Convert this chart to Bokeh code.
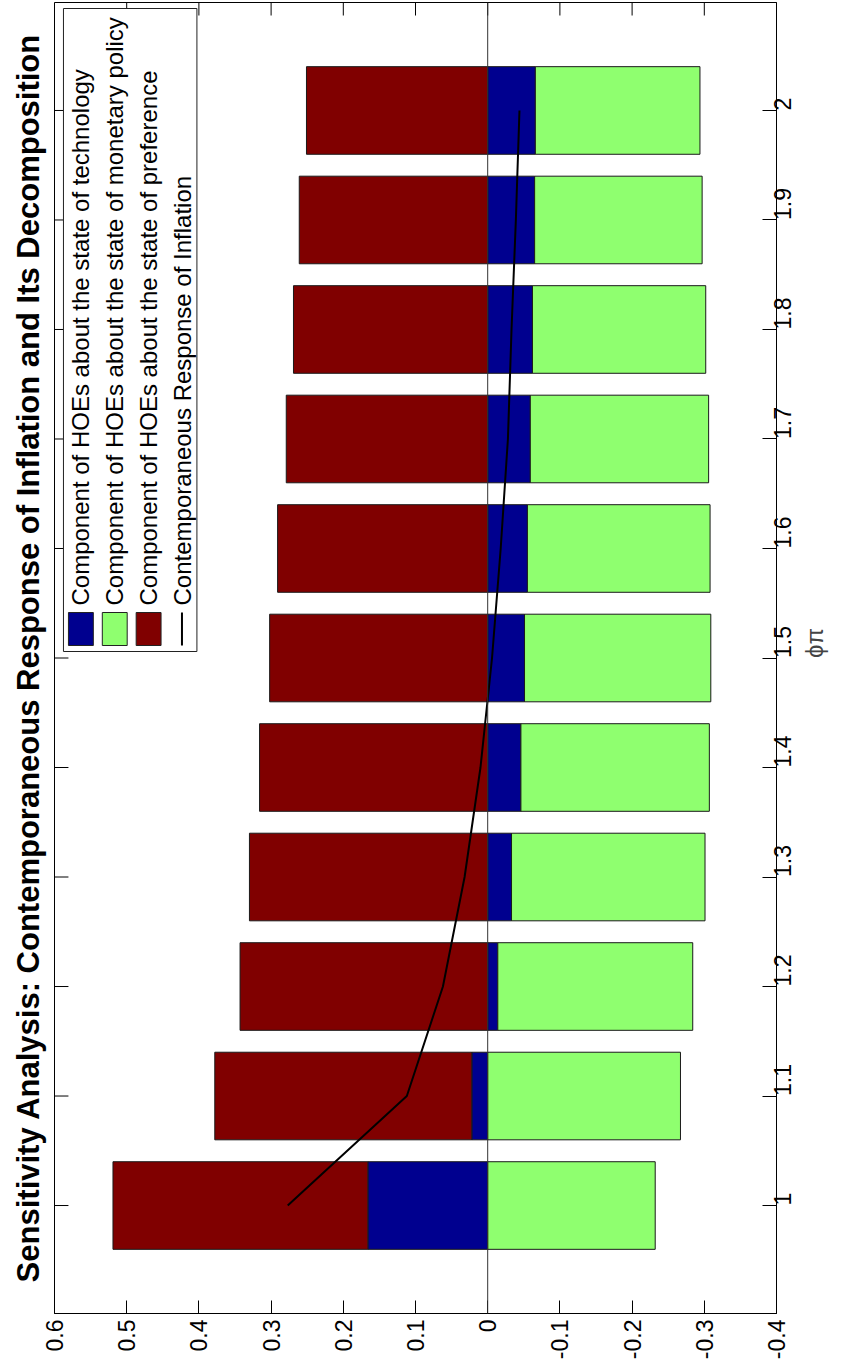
import math
from bokeh.plotting import figure
from bokeh.models import Range1d, FixedTicker, Span, Title
from bokeh.embed import file_html
from bokeh.resources import INLINE
from bokeh.core.properties import value

# ---------------- data ----------------
phi = [1.0, 1.1, 1.2, 1.3, 1.4, 1.5, 1.6, 1.7, 1.8, 1.9, 2.0]
technology = [0.166, 0.022, -0.014, -0.033, -0.046, -0.051, -0.055, -0.059, -0.062, -0.065, -0.066]
monetary = [-0.232, -0.267, -0.270, -0.268, -0.261, -0.258, -0.253, -0.247, -0.240, -0.232, -0.228]
preference = [0.353, 0.356, 0.343, 0.330, 0.316, 0.302, 0.291, 0.279, 0.269, 0.261, 0.251]
response = [0.277, 0.112, 0.062, 0.032, 0.010, -0.006, -0.018, -0.028, -0.033, -0.039, -0.044]

series_names = ["Component of HOEs about the state of technology",
                "Component of HOEs about the state of monetary policy",
                "Component of HOEs about the state of preference"]
line_name = "Contemporaneous Response of Inflation"
title_text = "Sensitivity Analysis: Contemporaneous Response of Inflation and Its Decomposition"
value_ticks = [0.6, 0.5, 0.4, 0.3, 0.2, 0.1, 0.0, -0.1, -0.2, -0.3, -0.4]
value_labels = ["0.6", "0.5", "0.4", "0.3", "0.2", "0.1", "0", "-0.1", "-0.2", "-0.3", "-0.4"]
phi_labels = ["1", "1.1", "1.2", "1.3", "1.4", "1.5", "1.6", "1.7", "1.8", "1.9", "2"]
phi_axis_label = "\u03d5\u03c0"

colors = ["#00008F", "#8FFF6F", "#800000"]
FONT = "Liberation Sans"

X0, X1 = 0.6, -0.4
Y0, Y1 = 0.9014, 2.0986
FRAME_W, FRAME_H = 725, 1311

# --------------- figure ---------------
p = figure(width=844, height=1362, output_backend="svg", toolbar_location=None,
           x_range=Range1d(X0, X1), y_range=Range1d(Y0, Y1),
           y_axis_location="right",
           min_border_left=54, min_border_right=65, min_border_top=2, min_border_bottom=49)
p.grid.visible = False
p.outline_line_color = "black"
p.background_fill_color = "white"
p.border_fill_color = "white"

def style_axis(ax, ticks, labels, tick_len):
    ax.ticker = FixedTicker(ticks=ticks)
    ax.major_label_overrides = dict(zip(ticks, labels))
    ax.major_tick_in = tick_len
    ax.major_tick_out = 0
    ax.minor_tick_in = 0
    ax.minor_tick_out = 0
    ax.axis_line_color = "black"
    ax.major_tick_line_color = "black"
    ax.major_label_text_font = FONT
    ax.major_label_text_color = "black"
    ax.major_label_text_font_size = "23px"
    ax.major_label_standoff = 6
    ax.major_label_orientation = math.pi / 2

style_axis(p.xaxis[0], value_ticks, value_labels, 13)
ya = p.yaxis[0]
style_axis(ya, phi, phi_labels, 14)
ya.axis_label = phi_axis_label
ya.axis_label_text_font = FONT
ya.axis_label_text_font_style = "normal"
ya.axis_label_text_font_size = "24px"
ya.axis_label_standoff = 12
if "axis_label_orientation" in ya.properties():
    ya.axis_label_orientation = math.pi / 2

# mirrored inward ticks on the top and left frame edges
dy = 13.0 * (Y1 - Y0) / FRAME_H
dx = 14.0 * (X0 - X1) / FRAME_W
p.segment(x0=value_ticks, y0=[Y1] * len(value_ticks), x1=value_ticks,
          y1=[Y1 - dy] * len(value_ticks), line_color="black", line_width=1)
p.segment(x0=[X0] * len(phi), y0=phi, x1=[X0 - dx] * len(phi), y1=phi,
          line_color="black", line_width=1)

# --------------- stacked bars ---------------
pos_base = [0.0] * len(phi)
neg_base = [0.0] * len(phi)
for vals, col in zip([technology, monetary, preference], colors):
    lefts, rights = [], []
    for i, v in enumerate(vals):
        if v >= 0:
            lefts.append(pos_base[i]); rights.append(pos_base[i] + v); pos_base[i] += v
        else:
            lefts.append(neg_base[i]); rights.append(neg_base[i] + v); neg_base[i] += v
    p.hbar(y=phi, left=lefts, right=rights, height=0.08, fill_color=col,
           line_color="#1a1a1a", line_width=1)

p.add_layout(Span(location=0, dimension="height", line_color="#333333", line_width=1))
p.line(response, phi, line_color="black", line_width=2)

# --------------- legend (drawn rotated) ---------------
def vx(px):   # canvas-pixel x -> value
    return X0 - (px - 54) * (X0 - X1) / FRAME_W
def py(px):   # canvas-pixel y -> phi
    return Y1 - (px - 2) * (Y1 - Y0) / FRAME_H

p.quad(left=[vx(63)], right=[vx(197)], top=[py(8)], bottom=[py(651)],
       fill_color="white", line_color="#222222", line_width=1)
patch_x = [(68, 93), (102, 127), (136, 161)]
for (a, b), col in zip(patch_x, colors):
    p.quad(left=[vx(a)], right=[vx(b)], top=[py(612)], bottom=[py(645)],
           fill_color=col, line_color="#222222", line_width=1)
p.line([vx(182), vx(182)], [py(612), py(645)], line_color="black", line_width=2)
p.text(x=[vx(80.5), vx(114.5), vx(148.5), vx(182.5)], y=[py(605)] * 4,
       text=series_names + [line_name], angle=math.pi / 2,
       text_font=value(FONT), text_font_size="24px", text_color="black",
       text_align="left", text_baseline="middle")

# --------------- title ---------------
p.add_layout(Title(text=title_text, align="center", text_font=FONT,
                   text_font_style="bold", text_font_size="31px",
                   text_color="black", standoff=17), "left")

open("out.html", "w").write(file_html(p, INLINE))
